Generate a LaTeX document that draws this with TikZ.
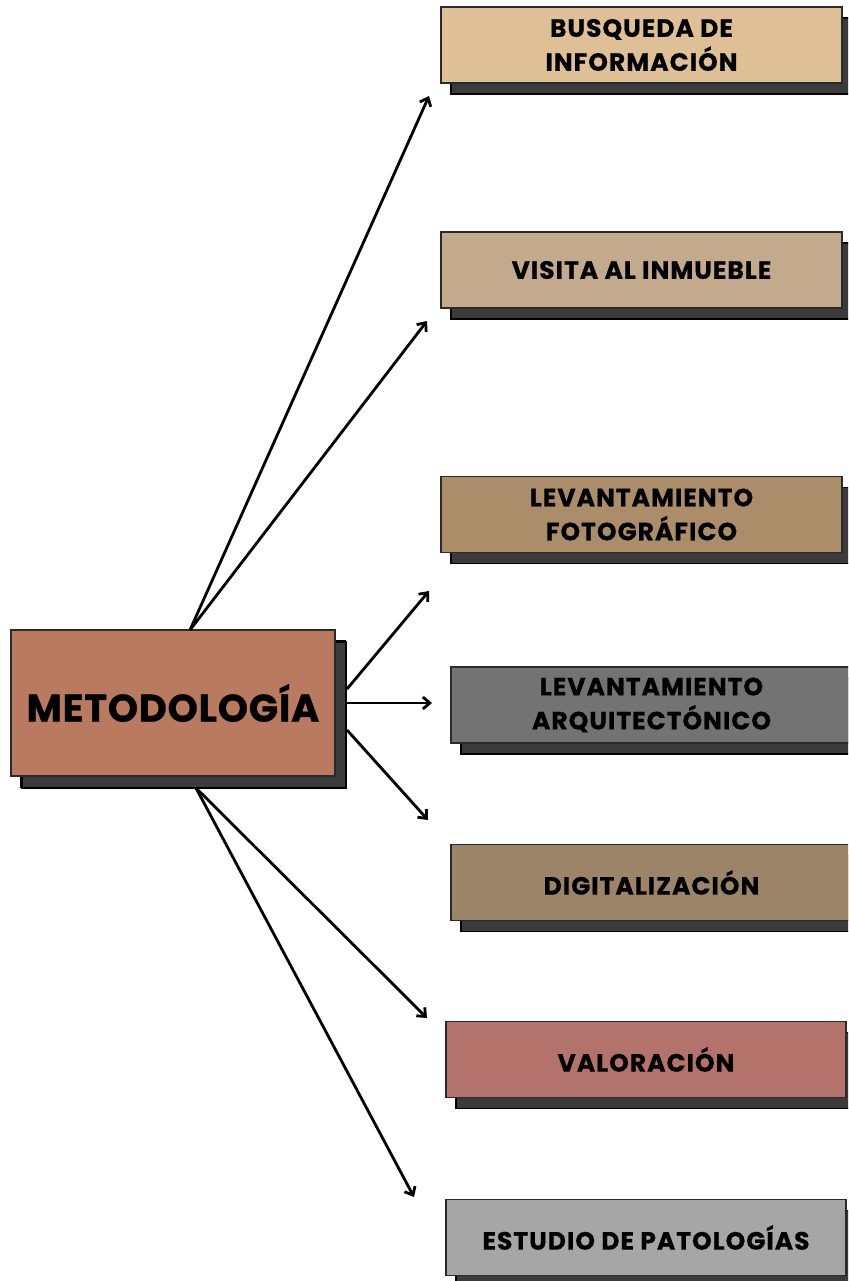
\documentclass[tikz,border=0pt]{standalone}
\usepackage{fontspec}
\setmainfont{Poppins}
\usetikzlibrary{arrows.meta,shadows}
\definecolor{cA}{HTML}{DFC096}
\definecolor{cB}{HTML}{C4AA8D}
\definecolor{cC}{HTML}{AC8D69}
\definecolor{cD}{HTML}{737373}
\definecolor{cE}{HTML}{9C8468}
\definecolor{cF}{HTML}{B3736A}
\definecolor{cG}{HTML}{A6A6A6}
\definecolor{cM}{HTML}{B97A60}
\definecolor{shadowc}{HTML}{3B3B3B}
\definecolor{edgec}{HTML}{2A2A2A}
\begin{document}
\begin{tikzpicture}[x=1pt,y=-1pt,
  box/.style={draw=edgec, line width=1.2pt, minimum width=401pt, minimum height=76pt,
    inner sep=0pt, align=center, text=black,
    font=\bfseries\addfontfeatures{LetterSpace=4,FakeBold=0.6}\fontsize{25}{34}\selectfont,
    general shadow={fill=shadowc, draw=black, line width=1.2pt, shadow xshift=10pt, shadow yshift=-11pt}},
  mainbox/.style={box, minimum width=324pt, minimum height=146pt,
    font=\bfseries\addfontfeatures{LetterSpace=2,FakeBold=0.8}\fontsize{38.5}{44}\selectfont,
    general shadow={fill=shadowc, draw=black, line width=1.2pt, shadow xshift=11pt, shadow yshift=-12pt}},
  arr/.style={line width=2.8pt, black, -{Straight Barb[length=7pt,width=12pt,line width=2.8pt]}}]
\useasboundingbox (0,0) rectangle (848,1281);
\clip (0,0) rectangle (848,1281);
\fill[white] (0,0) rectangle (848,1281);

\node[box, fill=cA] (b1) at (641.5,45) {BUSQUEDA DE\\INFORMACIÓN};
\node[box, fill=cB] (b2) at (641.5,270) {VISITA AL INMUEBLE};
\node[box, fill=cC] (b3) at (641.5,514.5) {LEVANTAMIENTO\\FOTOGRÁFICO};
\node[box, fill=cD] (b4) at (651.5,705) {LEVANTAMIENTO\\ARQUITECTÓNICO};
\node[box, fill=cE] (b5) at (651.5,882.5) {DIGITALIZACIÓN};
\node[box, fill=cF, minimum width=400pt] (b6) at (646,1059.5) {VALORACIÓN};
\node[box, fill=cG, minimum width=400pt] (b7) at (646,1237.5) {ESTUDIO DE PATOLOGÍAS};

\node[mainbox, fill=cM] (m) at (173,703) {METODOLOGÍA};

\coordinate (sTop) at (190,630);
\coordinate (sR1) at (347,689);
\coordinate (sR2) at (347,703);
\coordinate (sR3) at (347,730);
\coordinate (sBot) at (196,788);

\coordinate (e1) at (429,96);
\coordinate (e2) at (427,321);
\coordinate (e3) at (429,591);
\coordinate (e4) at (432,703);
\coordinate (e5) at (428,820);
\coordinate (e6) at (427,1018);
\coordinate (e7) at (414,1197);

\draw[arr] (sTop) -- (e1);
\draw[arr] (sTop) -- (e2);
\draw[arr] (sR1) -- (e3);
\draw[arr] (sR2) -- (e4);
\draw[arr] (sR3) -- (e5);
\draw[arr] (sBot) -- (e6);
\draw[arr] (sBot) -- (e7);
\end{tikzpicture}
\end{document}
